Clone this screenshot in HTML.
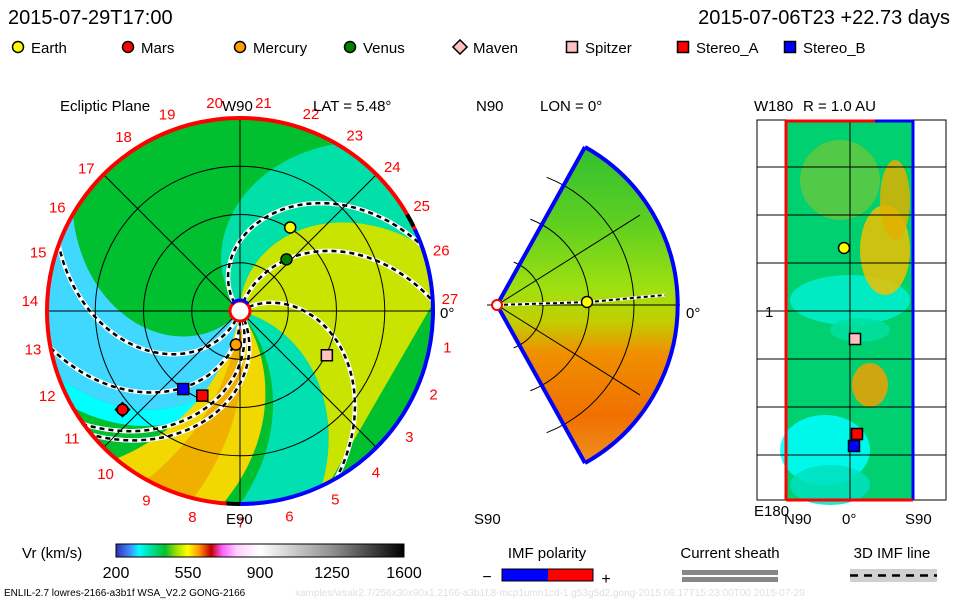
<!DOCTYPE html>
<html><head><meta charset="utf-8"><style>
body{margin:0;background:#fff;}
svg{display:block;font-family:"Liberation Sans",sans-serif;}
</style></head><body>
<svg id="s" width="960" height="600" viewBox="0 0 960 600">
<defs>
<clipPath id="cc"><circle cx="240" cy="311" r="193"/></clipPath>
<linearGradient id="cbar" x1="0" x2="1" y1="0" y2="0">
<stop offset="0" stop-color="#3030b0"/><stop offset="0.05" stop-color="#4090ff"/><stop offset="0.08" stop-color="#00ffff"/>
<stop offset="0.12" stop-color="#00e0a0"/><stop offset="0.17" stop-color="#00c030"/><stop offset="0.21" stop-color="#a0e000"/>
<stop offset="0.25" stop-color="#ffff00"/><stop offset="0.29" stop-color="#ff9000"/><stop offset="0.33" stop-color="#c00000"/>
<stop offset="0.37" stop-color="#ff60ff"/><stop offset="0.42" stop-color="#ffd0ff"/><stop offset="0.5" stop-color="#ffffff"/>
<stop offset="0.75" stop-color="#909090"/><stop offset="1" stop-color="#000000"/></linearGradient>
<linearGradient id="mid" x1="0" y1="0" x2="0" y2="1">
<stop offset="0" stop-color="#30c030"/><stop offset="0.25" stop-color="#60d020"/><stop offset="0.45" stop-color="#a0e010"/>
<stop offset="0.55" stop-color="#c0d000"/><stop offset="0.65" stop-color="#f09000"/><stop offset="0.85" stop-color="#f07000"/><stop offset="1" stop-color="#f09020"/></linearGradient>
</defs>
<g id="g"></g>
</svg>
<script>
const planetNames=["Earth","Mars","Mercury","Venus","Stereo_A","Stereo_B","Spitzer"];
const planetR=[1.01,1.59,0.35,0.72,0.96,1.0,1.01];
const planetAng=[59,-140,-97,48,-114,-126,-27];
const bandPhiA=[130,90,230,290,-15,-55,-80];
const bandRateA=[35,35,40,45,25,20,12];
const bandPhiB=[90,-15,290,300,-50,-100,-95];
const bandRateB=[35,25,45,45,20,15,12];
const bandColor=["#00e0a8","#c8e400","#40d8ff","#00ffff","#00e0b0","#f0d800","#f0b000"];
const sheathPhi=[130,73,30,250,275,290,300];
const sheathRate=[55,35,45,45,42,37,40];
const sectorLabels=[1,2,3,4,5,6,7,8,9,10,11,12,13,14,15,16,17,18,19,20,21,22,23,24,25,26,27];
const cbTicks=[200,550,900,1250,1600];
const NS="http://www.w3.org/2000/svg";
const g=document.getElementById('g');
function el(t,a,p){const e=document.createElementNS(NS,t);for(const k in a)e.setAttribute(k,a[k]);(p||g).appendChild(e);return e;}
function txt(x,y,s,sz,fill,anchor,p){const e=el('text',{x:x,y:y,'font-size':sz,fill:fill||'#000','text-anchor':anchor||'start'},p);e.textContent=s;return e;}
const CX=240,CY=311,PX=96.5;
function pt(r,deg){const a=deg*Math.PI/180;return [CX+r*PX*Math.cos(a),CY-r*PX*Math.sin(a)];}
function spiral(phi0,rate){const out=[];for(let r=0;r<=2.25;r+=0.05)out.push(pt(r,phi0-rate*r));return out;}
function pstr(a){return a.map(p=>p[0].toFixed(1)+','+p[1].toFixed(1)).join(' L');}
let t=txt(8,24,"2015-07-29T17:00",20);
t=txt(950,24,"2015-07-06T23 +22.73 days",20,'#000','end');
const legX=[18,128,240,350,460,572,683,790];
const legN=["Earth","Mars","Mercury","Venus","Maven","Spitzer","Stereo_A","Stereo_B"];
const legC=["#ffff00","#ff0000","#ffa000","#008000","#ffc0c0","#ffc0c0","#ff0000","#0000ff"];
const legS=["c","c","c","c","d","s","s","s"];
function marker(x,y,shape,c,p){if(shape==="c")return el('circle',{cx:x,cy:y,r:5.5,fill:c,stroke:'#000','stroke-width':1.5},p);if(shape==="d")return el('rect',{x:x-5,y:y-5,width:10,height:10,fill:c,stroke:'#000','stroke-width':1.5,transform:`rotate(45 ${x} ${y})`},p);return el('rect',{x:x-5.5,y:y-5.5,width:11,height:11,fill:c,stroke:'#000','stroke-width':1.5},p);}
for(let i=0;i<legN.length;i++){const lg=el('g',{});marker(legX[i],47,legS[i],legC[i],lg);txt(legX[i]+13,53,legN[i],15,'#000','start',lg);}
const ep=el('g',{});
const cg=el('g',{'clip-path':'url(#cc)'},ep);
el('circle',{cx:CX,cy:CY,r:193,fill:'#00c030'},cg);
for(let i=0;i<bandPhiA.length;i++){const a=spiral(bandPhiA[i],bandRateA[i]),b=spiral(bandPhiB[i],bandRateB[i]).reverse();const b1=el('path',{d:'M'+pstr(a.concat(b))+'Z',fill:bandColor[i]},cg);}
for(let i=0;i<sheathPhi.length;i++){const d='M'+pstr(spiral(sheathPhi[i],sheathRate[i]).slice(2));el('path',{d:d,fill:'none',stroke:'#fff','stroke-width':4.5},cg);const s=el('path',{d:d,fill:'none',stroke:'#000','stroke-width':2.5,'stroke-dasharray':'5 4'},cg);}
for(const r of [0.5,1,1.5])el('circle',{cx:CX,cy:CY,r:r*PX,fill:'none',stroke:'#000','stroke-width':1},cg);
for(const a of [0,45,90,135]){const p1=pt(2.1,a),p2=pt(2.1,a+180);el('line',{x1:p1[0],y1:p1[1],x2:p2[0],y2:p2[1],stroke:'#000','stroke-width':1},cg);}
function arc(a0,a1,c){const p0=pt(2,a0),p1=pt(2,a1);const large=(a1-a0)>180?1:0;return el('path',{d:`M${p0[0].toFixed(1)},${p0[1].toFixed(1)} A193,193 0 ${large} 0 ${p1[0].toFixed(1)},${p1[1].toFixed(1)}`,fill:'none',stroke:c,'stroke-width':4},ep);}
arc(25,266,'#ff0000');arc(266,270,'#000');arc(-90,25,'#0000ff');arc(26,30,'#000');
el('circle',{cx:CX,cy:CY,r:10,fill:'#fff',stroke:'#ff0000','stroke-width':3},ep);
el('path',{d:`M${CX-8},${CY-7} A10,10 0 0 1 ${CX+8},${CY-7}`,fill:'none',stroke:'#0000ff','stroke-width':3},ep);
for(let i=0;i<sectorLabels.length;i++){const a=3.6-13.333*sectorLabels[i]+360;const p=pt(2.18,a);txt(p[0],p[1]+6,String(sectorLabels[i]),15,'#ff0000','middle',ep);}
txt(60,111,"Ecliptic Plane",15,'#000','start',ep);txt(222,111,"W90",15,'#000','start',ep);txt(313,111,"LAT = 5.48°",15,'#000','start',ep);
txt(440,318,"0°",15,'#000','start',ep);txt(226,524,"E90",15,'#000','start',ep);
const shapes=["c","c","c","c","s","s","s"],cols=["#ffff00","#ff0000","#ffa000","#008000","#ff0000","#0000ff","#ffc0c0"];
for(let i=0;i<planetNames.length;i++){const p=pt(planetR[i],planetAng[i]);let m;if(planetNames[i]==="Mars"){marker(p[0],p[1],"d","#ff0000",ep);m=marker(p[0],p[1],"c","#ff0000",ep);}else m=marker(p[0],p[1],shapes[i],cols[i],ep);}
const mp=el('g',{});
el('path',{d:"M497,305 L585,147 A181,181 0 0 1 585,463 Z",fill:'url(#mid)'},mp);
for(const r of [46,92,137])el('path',{d:`M${497+r*Math.cos(1.2)},${305-r*Math.sin(1.2)} A${r},${r} 0 0 1 ${497+r*Math.cos(1.2)},${305+r*Math.sin(1.2)}`,fill:'none',stroke:'#000','stroke-width':1},mp);
el('line',{x1:487,y1:305,x2:680,y2:305,stroke:'#000'},mp);
el('line',{x1:497,y1:305,x2:640,y2:215,stroke:'#000'},mp);el('line',{x1:497,y1:305,x2:640,y2:395,stroke:'#000'},mp);
el('path',{d:"M585,147 A181,181 0 0 1 585,463",fill:'none',stroke:'#0000ff','stroke-width':4},mp);
el('line',{x1:497,y1:305,x2:585,y2:147,stroke:'#0000ff','stroke-width':4},mp);el('line',{x1:497,y1:305,x2:585,y2:463,stroke:'#0000ff','stroke-width':4},mp);
el('path',{d:"M497,305 L590,302 L665,295",fill:'none',stroke:'#fff','stroke-width':3},mp);
el('path',{d:"M497,305 L590,302 L665,295",fill:'none',stroke:'#000','stroke-width':2,'stroke-dasharray':'4 3'},mp);
el('circle',{cx:497,cy:305,r:5,fill:'#fff',stroke:'#ff0000','stroke-width':2},mp);
marker(587,302,"c","#ffff00",mp);
txt(476,111,"N90",15,'#000','start',mp);txt(540,111,"LON = 0°",15,'#000','start',mp);txt(686,318,"0°",15,'#000','start',mp);txt(474,524,"S90",15,'#000','start',mp);
const rp=el('g',{});
el('rect',{x:785,y:120,width:129,height:380,fill:'#00d070'},rp);
const blobX=[850,885,825,870,840,830,895,860],blobY=[300,250,450,385,180,485,200,330],blobRX=[60,25,45,18,40,40,15,30],blobRY=[25,45,35,22,40,20,40,12],blobC=["#00f0d0","#f0c000","#00ffff","#f0a000","#60c840","#00e0c0","#e0b000","#00e0a0"];
for(let i=0;i<blobX.length;i++)el('ellipse',{cx:blobX[i],cy:blobY[i],rx:blobRX[i],ry:blobRY[i],fill:blobC[i],opacity:0.85},rp);
for(const y of [167,215,263,311,359,407,455])el('line',{x1:757,y1:y,x2:946,y2:y,stroke:'#000'},rp);
for(const x of [850,914])el('line',{x1:x,y1:120,x2:x,y2:500,stroke:'#000'},rp);
el('rect',{x:757,y:120,width:189,height:380,fill:'none',stroke:'#000'},rp);
el('line',{x1:786,y1:120,x2:786,y2:500,stroke:'#ff0000','stroke-width':3},rp);el('line',{x1:913,y1:120,x2:913,y2:500,stroke:'#0000ff','stroke-width':3},rp);
el('line',{x1:786,y1:500,x2:913,y2:500,stroke:'#ff0000','stroke-width':3},rp);el('line',{x1:786,y1:121,x2:913,y2:121,stroke:'#ff0000','stroke-width':3},rp);el('line',{x1:875,y1:121,x2:913,y2:121,stroke:'#0000ff','stroke-width':3},rp);
marker(844,248,"c","#ffff00",rp);marker(855,339,"s","#ffc0c0",rp);marker(857,434,"s","#ff0000",rp);marker(854,446,"s","#0000ff",rp);
txt(754,111,"W180",15,'#000','start',rp);txt(803,111,"R = 1.0 AU",15,'#000','start',rp);txt(765,317,"1",15,'#000','start',rp);
txt(754,516,"E180",15,'#000','start',rp);txt(784,524,"N90",15,'#000','start',rp);txt(842,524,"0°",15,'#000','start',rp);txt(905,524,"S90",15,'#000','start',rp);
const cb=el('g',{});
txt(22,558,"Vr (km/s)",15,'#000','start',cb);el('rect',{x:116,y:544,width:288,height:13,fill:'url(#cbar)',stroke:'#000'},cb);
for(let i=0;i<cbTicks.length;i++)txt(116+288*(cbTicks[i]-200)/1400,578,String(cbTicks[i]),16,'#000','middle',cb);
const imf=el('g',{});
txt(547,558,"IMF polarity",15,'#000','middle',imf);el('rect',{x:502,y:569,width:46,height:12,fill:'#0000ff'},imf);el('rect',{x:548,y:569,width:45,height:12,fill:'#ff0000'},imf);el('rect',{x:502,y:569,width:91,height:12,fill:'none',stroke:'#000'},imf);
txt(487,582,"−",16,'#000','middle',imf);txt(606,584,"+",16,'#000','middle',imf);
const cs=el('g',{});
txt(730,558,"Current sheath",15,'#000','middle',cs);el('rect',{x:682,y:570,width:96,height:5,fill:'#888'},cs);el('rect',{x:682,y:577,width:96,height:5,fill:'#888'},cs);
const il=el('g',{});
txt(892,558,"3D IMF line",15,'#000','middle',il);el('rect',{x:850,y:569,width:87,height:13,fill:'#d0d0d0'},il);el('line',{x1:850,y1:575.5,x2:937,y2:575.5,stroke:'#000','stroke-width':2.5,'stroke-dasharray':'8 6'},il);
t=txt(4,596,"ENLIL-2.7 lowres-2166-a3b1f WSA_V2.2 GONG-2166",10);
txt(295,596,"xamples/wsalr2.7/256x30x90x1.2166-a3b1f.8-mcp1umn1cd-1.g53g5d2.gong-2015:06:17T15:23:00T00   2015-07-29",10,'#e0e0e0');
</script>
</body></html>
